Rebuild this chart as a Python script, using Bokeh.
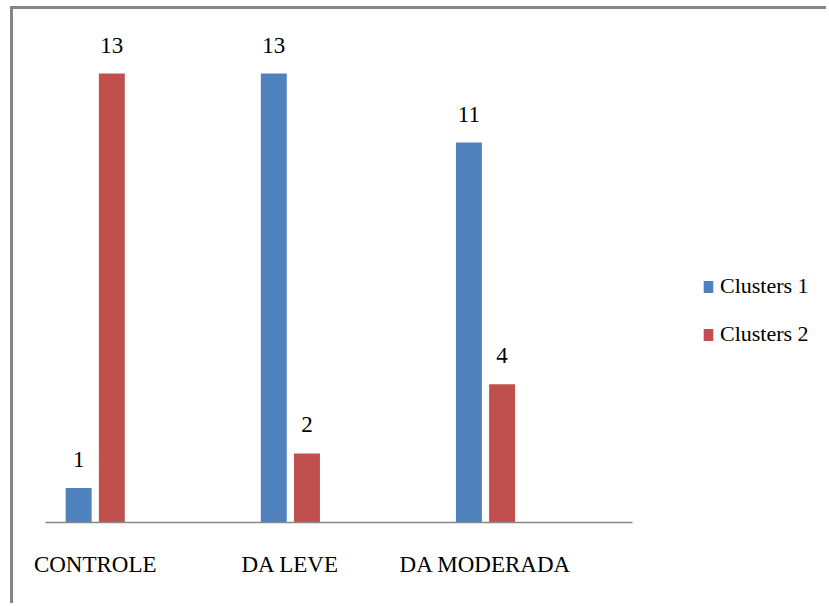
from bokeh.plotting import figure
from bokeh.models import ColumnDataSource, Range1d, FixedTicker, LabelSet, Legend, LegendItem
from bokeh.embed import file_html
from bokeh.resources import INLINE

# Data
categories = ["CONTROLE", "DA LEVE", "DA MODERADA"]
series_names = ["Clusters 1", "Clusters 2"]
clusters_1 = [1, 13, 11]
clusters_2 = [13, 2, 4]

colors = ["#4F81BD", "#C0504D"]
serif = "'Liberation Serif', 'DejaVu Serif', serif"

bar_w = 0.133
offsets = [-0.085, 0.085]

p = figure(
    width=816, height=597,
    x_range=Range1d(-0.255, 3.763), y_range=Range1d(0, 14.39),
    output_backend="svg", toolbar_location=None,
    min_border_left=32, min_border_top=16, min_border_right=0, min_border_bottom=84,
)
p.outline_line_color = None
p.background_fill_color = "white"
p.border_fill_color = "white"
p.xgrid.visible = False
p.ygrid.visible = False
p.yaxis.visible = False

items = []
for name, vals, off, col in zip(series_names, [clusters_1, clusters_2], offsets, colors):
    src = ColumnDataSource(dict(
        x=[i + off for i in range(len(categories))],
        top=vals,
        label=[str(v) for v in vals],
    ))
    r = p.vbar(x="x", top="top", bottom=0, width=bar_w, source=src,
               fill_color=col, line_color=None)
    items.append(LegendItem(label=name, renderers=[r]))
    p.add_layout(LabelSet(x="x", y="top", text="label", source=src,
                          text_align="center", text_baseline="alphabetic",
                          y_offset=21, text_font=serif, text_font_size="23px",
                          text_color="black"))

ax = p.xaxis[0]
ax.ticker = FixedTicker(ticks=list(range(len(categories))))
ax.major_label_overrides = {i: c for i, c in enumerate(categories)}
ax.bounds = (-0.255, 2.754)
ax.axis_line_color = "#868686"
ax.axis_line_width = 1.5
ax.major_tick_line_color = None
ax.minor_tick_line_color = None
ax.major_label_text_font = serif
ax.major_label_text_font_size = "23px"
ax.major_label_text_color = "black"
ax.major_label_standoff = 23

legend = Legend(items=items, location=(657, 175),
                glyph_width=12, glyph_height=15, spacing=22,
                label_text_font=serif, label_text_font_size="22px",
                label_text_color="black", label_standoff=6,
                padding=0, margin=0, border_line_color=None,
                background_fill_alpha=0)
p.add_layout(legend, "center")

p.styles = {
    "border-top": "3px solid #858585",
    "border-left": "3px solid #858585",
    "margin-left": "10px",
    "margin-top": "6px",
}

open("out.html", "w").write(file_html(p, INLINE))
